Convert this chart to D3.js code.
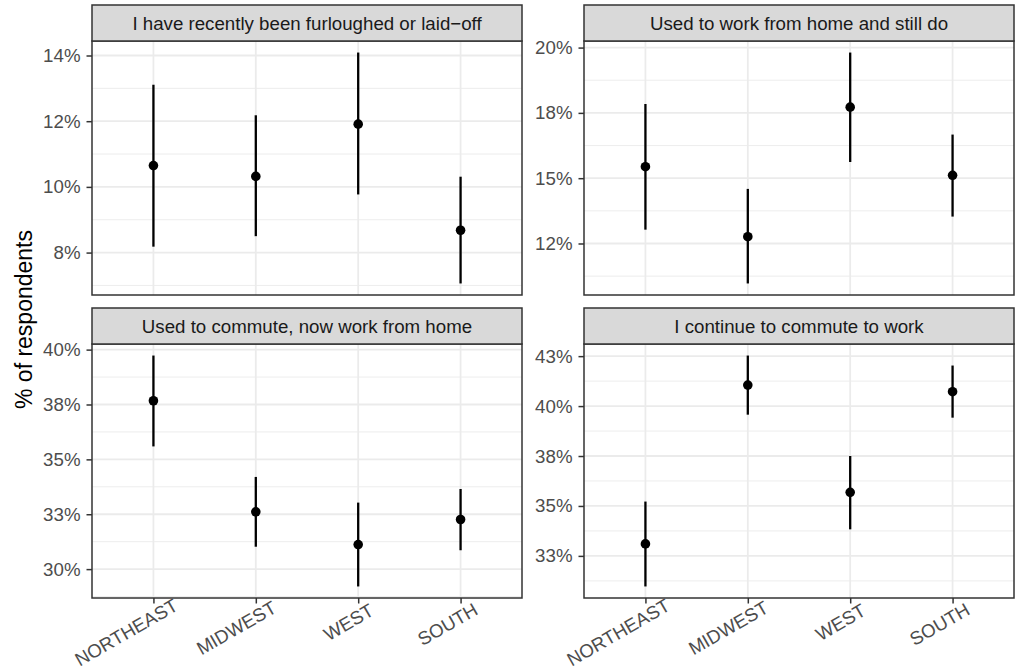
<!DOCTYPE html>
<html>
<head>
<meta charset="utf-8">
<script src="https://cdn.jsdelivr.net/npm/d3@7"></script>
<style>
  html, body { margin: 0; padding: 0; background: #ffffff; }
  svg { display: block; font-family: "Liberation Sans", Arial, Helvetica, sans-serif; }
</style>
</head>
<body>
<svg id="chart" width="1023" height="670"></svg>
<script>
// ---------- data ----------
const regions = ["NORTHEAST", "MIDWEST", "WEST", "SOUTH"];
const facetTitles = [
  "I have recently been furloughed or laid\u2212off",
  "Used to work from home and still do",
  "Used to commute, now work from home",
  "I continue to commute to work"
];
const yTitle = "% of respondents";

// estimates and 95% intervals (percent), one array per facet
const furloughedEst  = [10.65, 10.32, 11.91, 8.68];
const furloughedLow  = [8.18, 8.50, 9.77, 7.06];
const furloughedHigh = [13.11, 12.18, 14.09, 10.31];

const stillHomeEst  = [15.44, 12.76, 17.72, 15.11];
const stillHomeLow  = [13.03, 10.97, 15.62, 13.53];
const stillHomeHigh = [17.84, 14.59, 19.81, 16.67];

const nowHomeEst  = [37.67, 32.61, 31.12, 32.26];
const nowHomeLow  = [35.59, 31.02, 29.21, 30.86];
const nowHomeHigh = [39.73, 34.20, 33.03, 33.65];

const commuteEst  = [33.10, 41.05, 35.68, 40.72];
const commuteLow  = [30.97, 39.57, 33.83, 39.42];
const commuteHigh = [35.22, 42.53, 37.50, 42.03];

// y tick values and their printed labels, per facet
const ticksFurloughed = [8, 10, 12, 14];
const labelsFurloughed = ["8%", "10%", "12%", "14%"];
const ticksStillHome = [12.5, 15, 17.5, 20];
const labelsStillHome = ["12%", "15%", "18%", "20%"];
const ticksNowHome = [30, 32.5, 35, 37.5, 40];
const labelsNowHome = ["30%", "33%", "35%", "38%", "40%"];
const ticksCommute = [32.5, 35, 37.5, 40, 42.5];
const labelsCommute = ["33%", "35%", "38%", "40%", "43%"];

// ---------- build facet table ----------
const facets = [
  { title: facetTitles[0], est: furloughedEst, lo: furloughedLow, hi: furloughedHigh, ticks: ticksFurloughed, labels: labelsFurloughed },
  { title: facetTitles[1], est: stillHomeEst, lo: stillHomeLow, hi: stillHomeHigh, ticks: ticksStillHome, labels: labelsStillHome },
  { title: facetTitles[2], est: nowHomeEst, lo: nowHomeLow, hi: nowHomeHigh, ticks: ticksNowHome, labels: labelsNowHome },
  { title: facetTitles[3], est: commuteEst, lo: commuteLow, hi: commuteHigh, ticks: ticksCommute, labels: labelsCommute }
];

// ---------- layout ----------
const cols = [{ x0: 92, x1: 522 }, { x0: 584, x1: 1014 }];
const rows = [{ strip: 5, top: 41, bottom: 295 }, { strip: 308, top: 344, bottom: 598 }];
const smallFont = 18.7;
const titleFont = 23;
const borderCol = "#333333";
const gridCol = "#EBEBEB";
const tickLen = 5.5;

const svg = d3.select("#chart");

facets.forEach((f, i) => {
  const c = cols[i % 2], r = rows[Math.floor(i / 2)];
  const isBottom = Math.floor(i / 2) === 1;
  const g = svg.append("g");

  const x = d3.scalePoint().domain(regions).range([c.x0, c.x1]).padding(0.6);
  const lo = d3.min(f.lo), hi = d3.max(f.hi);
  const pad = (hi - lo) * 0.05;
  const y = d3.scaleLinear().domain([lo - pad, hi + pad]).range([r.bottom, r.top]);

  // minor breaks: midpoints between majors, extended one step each side
  const step = f.ticks[1] - f.ticks[0];
  const minor = [];
  for (let k = -1; k < f.ticks.length; k++) {
    const v = f.ticks[0] + step * (k + 0.5);
    if (v >= y.domain()[0] && v <= y.domain()[1]) minor.push(v);
  }

  // panel background
  g.append("rect").attr("x", c.x0).attr("y", r.top)
    .attr("width", c.x1 - c.x0).attr("height", r.bottom - r.top).attr("fill", "#ffffff");

  // grid lines
  g.append("g").selectAll("line").data(minor).join("line")
    .attr("x1", c.x0).attr("x2", c.x1)
    .attr("y1", d => y(d)).attr("y2", d => y(d))
    .attr("stroke", gridCol).attr("stroke-width", 0.9);
  g.append("g").selectAll("line").data(f.ticks).join("line")
    .attr("x1", c.x0).attr("x2", c.x1)
    .attr("y1", d => y(d)).attr("y2", d => y(d))
    .attr("stroke", gridCol).attr("stroke-width", 1.8);
  g.append("g").selectAll("line").data(regions).join("line")
    .attr("x1", d => x(d)).attr("x2", d => x(d))
    .attr("y1", r.top).attr("y2", r.bottom)
    .attr("stroke", gridCol).attr("stroke-width", 1.8);

  // error bars and points
  const pts = regions.map((reg, k) => ({ reg, est: f.est[k], lo: f.lo[k], hi: f.hi[k] }));
  g.append("g").selectAll("line").data(pts).join("line")
    .attr("x1", d => x(d.reg)).attr("x2", d => x(d.reg))
    .attr("y1", d => y(d.lo)).attr("y2", d => y(d.hi))
    .attr("stroke", "#000000").attr("stroke-width", 2.3);
  g.append("g").selectAll("circle").data(pts).join("circle")
    .attr("cx", d => x(d.reg)).attr("cy", d => y(d.est)).attr("r", 4.8)
    .attr("fill", "#000000");

  // panel border
  g.append("rect").attr("x", c.x0).attr("y", r.top)
    .attr("width", c.x1 - c.x0).attr("height", r.bottom - r.top)
    .attr("fill", "none").attr("stroke", borderCol).attr("stroke-width", 1.5);

  // strip
  g.append("rect").attr("x", c.x0).attr("y", r.strip)
    .attr("width", c.x1 - c.x0).attr("height", r.top - r.strip)
    .attr("fill", "#D9D9D9").attr("stroke", borderCol).attr("stroke-width", 1.5);
  g.append("text").attr("x", (c.x0 + c.x1) / 2).attr("y", (r.strip + r.top) / 2)
    .attr("text-anchor", "middle").attr("dy", "0.35em")
    .attr("font-size", smallFont).attr("fill", "#1A1A1A").text(f.title);

  // y axis
  const yAxis = d3.axisLeft(y).tickValues(f.ticks)
    .tickFormat((d, k) => f.labels[k]).tickSize(tickLen).tickPadding(6);
  const ya = g.append("g").attr("transform", `translate(${c.x0},0)`).call(yAxis);
  ya.select(".domain").remove();
  ya.selectAll(".tick line").attr("stroke", borderCol).attr("stroke-width", 1.5);
  ya.selectAll(".tick text").attr("fill", "#4D4D4D")
    .attr("font-size", smallFont).attr("font-family", "Liberation Sans, Arial, sans-serif");

  // x axis (bottom row only)
  if (isBottom) {
    const xAxis = d3.axisBottom(x).tickSize(tickLen).tickFormat(() => "");
    const xa = g.append("g").attr("transform", `translate(0,${r.bottom})`).call(xAxis);
    xa.select(".domain").remove();
    xa.selectAll(".tick line").attr("stroke", borderCol).attr("stroke-width", 1.5);
    const labs = g.append("g").selectAll("text").data(regions).join("text")
      .attr("font-size", smallFont).attr("fill", "#4D4D4D")
      .attr("text-anchor", "start")
      .text(d => d);
    labs.each(function (d) {
      const L = this.getComputedTextLength();
      d3.select(this)
        .attr("x", -0.83 * L).attr("y", 0)
        .attr("transform", `translate(${x(d) + 9},${r.bottom + 21}) rotate(-30)`);
    });
  }
});

// y axis title
svg.append("text")
  .attr("transform", `translate(24,${(rows[0].top + rows[1].bottom) / 2}) rotate(-90)`)
  .attr("text-anchor", "middle").attr("dy", "0.35em")
  .attr("font-size", titleFont).attr("fill", "#000000")
  .text(yTitle);
</script>
</body>
</html>
